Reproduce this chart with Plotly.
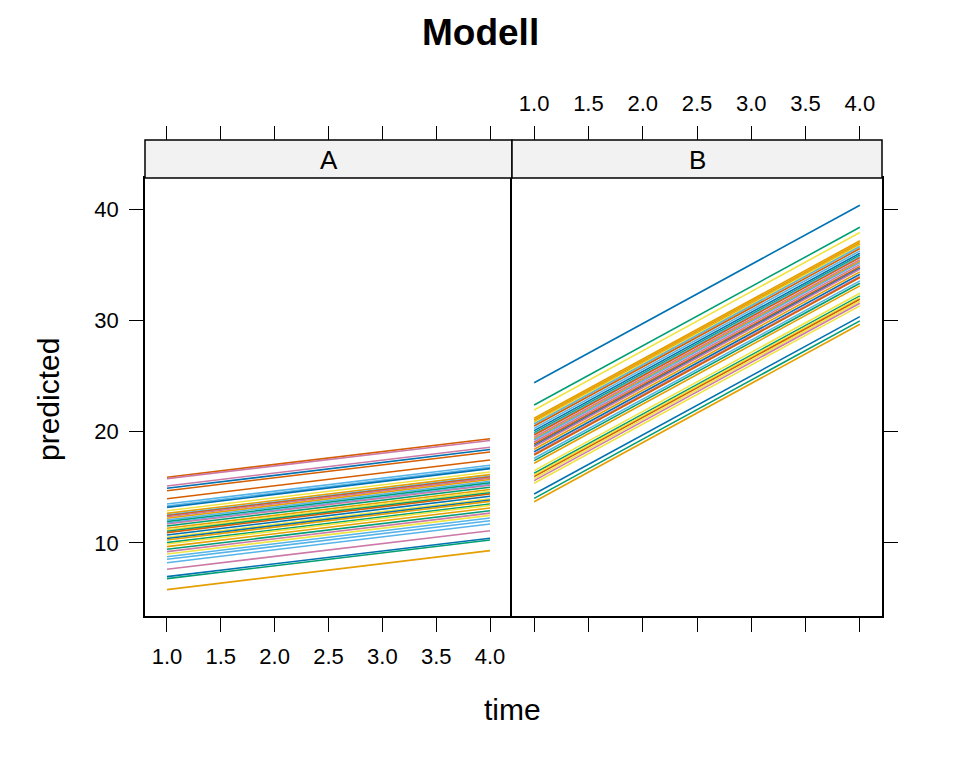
import plotly.graph_objects as go

# ---- data ----
time_start = 1.0
time_end = 4.0

a_start = [15.90, 15.78, 15.12, 14.91, 14.70, 13.98, 13.50, 13.32, 13.20, 12.90,
           12.66, 12.52, 12.45, 12.36, 12.22, 12.07, 11.92, 11.80, 11.71, 11.53,
           11.32, 11.17, 11.05, 10.93, 10.72, 10.51, 10.40, 10.27, 10.03, 9.91,
           9.67, 9.43, 9.22, 9.01, 8.77, 8.54, 8.23, 7.64, 6.98, 6.80, 5.81]
a_end = [19.37, 19.20, 18.60, 18.40, 18.18, 17.45, 16.98, 16.80, 16.68, 16.38,
         16.14, 16.00, 15.92, 15.83, 15.70, 15.55, 15.40, 15.27, 15.18, 15.00,
         14.80, 14.64, 14.52, 14.40, 14.20, 13.98, 13.86, 13.74, 13.50, 13.38,
         13.14, 12.90, 12.68, 12.48, 12.24, 12.00, 11.71, 11.10, 10.42, 10.27, 9.31]
a_col = ["V", "P", "P", "B", "V", "V", "S", "S", "B", "Y",
         "O", "S", "V", "P", "O", "S", "G", "S", "P", "G",
         "O", "Y", "G", "V", "B", "Y", "B", "O", "G", "Y",
         "O", "G", "P", "Y", "S", "S", "S", "P", "B", "G", "O"]

b_start = [24.40, 22.40, 21.95, 21.20, 21.05, 20.90, 20.80, 20.69, 20.51, 20.30,
           20.09, 19.91, 19.80, 19.70, 19.50, 19.35, 19.25, 19.07, 18.89, 18.75,
           18.65, 18.42, 18.20, 18.00, 17.91, 17.61, 17.40, 17.16, 16.50, 16.26,
           16.11, 15.96, 15.78, 15.60, 15.36, 14.40, 14.01, 13.71]
b_end = [40.34, 38.36, 37.90, 37.15, 37.00, 36.84, 36.74, 36.63, 36.45, 36.24,
         36.03, 35.85, 35.74, 35.64, 35.44, 35.29, 35.19, 35.01, 34.83, 34.69,
         34.59, 34.36, 34.14, 33.94, 33.85, 33.55, 33.34, 33.10, 32.44, 32.20,
         32.05, 31.90, 31.72, 31.54, 31.30, 30.34, 29.95, 29.65]
b_col = ["B", "G", "Y", "O", "O", "O", "Y", "S", "V", "S",
         "B", "G", "S", "V", "P", "O", "S", "P", "V", "B",
         "P", "O", "B", "P", "V", "S", "G", "O", "Y", "G",
         "Y", "V", "Y", "P", "Y", "B", "G", "O"]

x_ticks = [1.0, 1.5, 2.0, 2.5, 3.0, 3.5, 4.0]
x_ticklabels = ["1.0", "1.5", "2.0", "2.5", "3.0", "3.5", "4.0"]
y_ticks = [10, 20, 30, 40]

palette = {"O": "#E69F00", "S": "#56B4E9", "G": "#009E73", "Y": "#F0E442",
           "B": "#0072B2", "V": "#D55E00", "P": "#CC79A7"}

W, H = 960, 768
OFF = 8  # page body margin
def px(x): return (x - OFF) / W
def py(y): return 1 - (y - OFF) / H

FONT = "Liberation Sans, Arial, sans-serif"
fig = go.Figure()

for s, e, c in zip(a_start, a_end, a_col):
    fig.add_trace(go.Scatter(x=[time_start, time_end], y=[s, e], mode="lines",
                             line=dict(color=palette[c], width=1.6),
                             xaxis="x", yaxis="y", showlegend=False, hoverinfo="skip"))
for s, e, c in zip(b_start, b_end, b_col):
    fig.add_trace(go.Scatter(x=[time_start, time_end], y=[s, e], mode="lines",
                             line=dict(color=palette[c], width=1.6),
                             xaxis="x2", yaxis="y2", showlegend=False, hoverinfo="skip"))
# dummy traces for the top axes
fig.add_trace(go.Scatter(x=[None], y=[None], xaxis="x3", yaxis="y", showlegend=False))
fig.add_trace(go.Scatter(x=[None], y=[None], xaxis="x4", yaxis="y2", showlegend=False))

xr = [0.796, 4.204]
yr = [3.44, 42.79]
ydom = [py(616), py(178)]
dA = [px(145), px(512)]
dB = [px(512), px(882)]
tickfont = dict(family=FONT, size=22, color="black")

common_x = dict(range=xr, tickvals=x_ticks, ticktext=x_ticklabels, ticks="outside",
                ticklen=14, tickwidth=1.4, tickcolor="black", showgrid=False,
                zeroline=False, tickfont=tickfont, fixedrange=True)

fig.update_layout(
    width=W, height=H, margin=dict(l=0, r=0, t=0, b=0),
    paper_bgcolor="white", plot_bgcolor="white",
    xaxis=dict(domain=dA, anchor="y", showline=True, mirror=True, linecolor="black",
               linewidth=1.5, ticklabelstandoff=6, **common_x),
    xaxis2=dict(domain=dB, anchor="y2", showline=True, mirror=True, linecolor="black",
                linewidth=1.5, showticklabels=False, **common_x),
    xaxis3=dict(domain=dA, overlaying="x", anchor="free", position=py(140), side="top",
                showline=False, showticklabels=False, **common_x),
    xaxis4=dict(domain=dB, overlaying="x2", anchor="free", position=py(140), side="top",
                showline=False, showticklabels=True, ticklabelstandoff=6, **common_x),
    yaxis=dict(domain=ydom, range=yr, anchor="x", tickvals=y_ticks, ticks="outside",
               ticklen=14, tickwidth=1.4, tickcolor="black", showline=True, mirror=False,
               linecolor="black", linewidth=1.5, showgrid=False, zeroline=False,
               tickfont=tickfont, ticklabelstandoff=6, fixedrange=True),
    yaxis2=dict(domain=ydom, range=yr, anchor="x2", side="right", tickvals=y_ticks,
                ticks="outside", ticklen=14, tickwidth=1.4, tickcolor="black",
                showline=True, mirror=True, linecolor="black", linewidth=1.5,
                showgrid=False, zeroline=False, showticklabels=False, fixedrange=True),
)

# strips
for (x0, x1), lab in [((145, 512), "A"), ((512, 882), "B")]:
    fig.add_shape(type="rect", xref="paper", yref="paper", x0=px(x0), x1=px(x1),
                  y0=py(178), y1=py(140), fillcolor="#F2F2F2",
                  line=dict(color="black", width=1.5), layer="above")
    fig.add_annotation(x=px((x0 + x1) / 2), y=py(160), xref="paper", yref="paper",
                       xanchor="center", yanchor="middle",
                       text=lab, showarrow=False, font=dict(family=FONT, size=26, color="black"))

fig.add_annotation(x=px(480), y=py(32), xref="paper", yref="paper", text="<b>Modell</b>",
                   xanchor="center", yanchor="middle",
                   showarrow=False, font=dict(family=FONT, size=37, color="black"))
fig.add_annotation(x=px(513), y=py(709), xref="paper", yref="paper", text="time",
                   xanchor="center", yanchor="middle",
                   showarrow=False, font=dict(family=FONT, size=30, color="black"))
fig.add_annotation(x=px(48), y=py(400), xref="paper", yref="paper", text="predicted",
                   xanchor="center", yanchor="middle",
                   textangle=-90, showarrow=False, font=dict(family=FONT, size=30, color="black"))

fig.write_html("out.html")
